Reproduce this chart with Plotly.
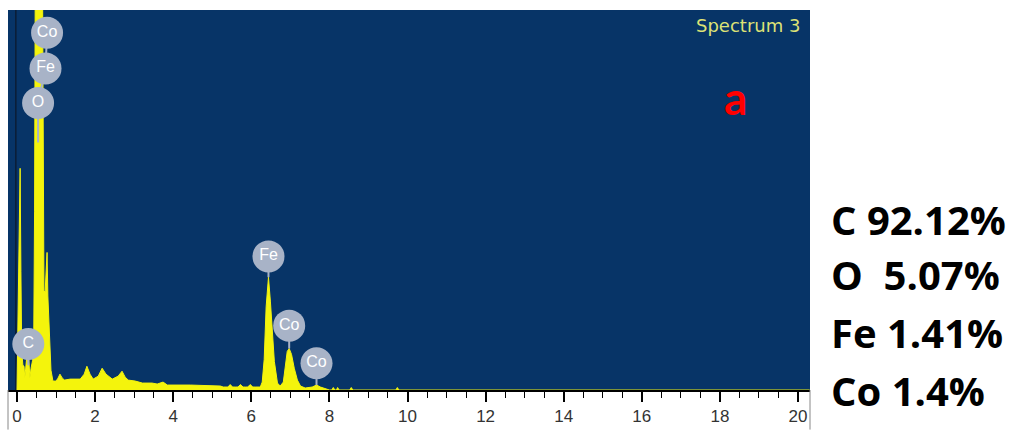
import plotly.graph_objects as go

# ---- spectrum data (energy keV, counts) ----
energy_kev = [0.00, 0.02, 0.05, 0.08, 0.10, 0.12, 0.15, 0.18, 0.20, 0.23, 0.27, 0.30, 0.33, 0.36,
              0.40, 0.43, 0.45, 0.47, 0.56, 0.65, 0.67, 0.69, 0.72, 0.75, 0.77, 0.79, 0.83, 0.87,
              0.92, 1.00, 1.05, 1.10, 1.16, 1.22, 1.36, 1.62, 1.72, 1.79, 1.87, 1.95, 2.08, 2.18,
              2.28, 2.44, 2.59, 2.69, 2.77, 2.85, 3.03, 3.21, 3.46, 3.59, 3.74, 3.85, 4.44, 5.21,
              5.28, 5.40, 5.46, 5.52, 5.59, 5.66, 5.72, 5.79, 5.85, 5.91, 5.97, 6.04, 6.10, 6.23,
              6.28, 6.33, 6.38, 6.44, 6.49, 6.54, 6.59, 6.67, 6.74, 6.82, 6.87, 6.92, 6.97, 7.03,
              7.10, 7.18, 7.26, 7.38, 7.56, 7.67, 7.77, 7.90, 8.00, 8.06, 8.10, 8.14, 8.18, 8.21,
              8.25, 8.52, 8.56, 8.60, 9.70, 9.74, 9.78, 20.30]
counts = [0, 600, 1500, 2240, 1200, 400, 250, 240, 120, 260, 420, 330, 120, 220,
          300, 600, 1800, 4500, 9000, 4500, 1400, 1000, 990, 1200, 1390, 950, 500, 200,
          90, 90, 120, 160, 120, 100, 110, 110, 160, 240, 160, 110, 140, 220,
          160, 110, 140, 190, 130, 100, 90, 70, 70, 60, 80, 50, 50, 40,
          30, 30, 55, 30, 30, 30, 55, 30, 30, 30, 55, 30, 30, 30,
          80, 310, 840, 1140, 890, 540, 290, 70, 40, 80, 240, 390, 420, 360,
          220, 100, 40, 20, 30, 50, 30, 10, 0, 0, 25, 0, 0, 25,
          0, 0, 25, 0, 0, 25, 0, 0]

# ---- peak labels ----
label_text = ["Co", "Fe", "O", "C", "Fe", "Co", "Co"]
label_kev = [0.77, 0.73, 0.54, 0.29, 6.44, 6.97, 7.67]
label_cts = [3610, 3250, 2900, 465, 1350, 650, 270]
label_tip = [None, None, 2500, 250, 1140, 420, 50]

# ---- composition text ----
composition = ["C 92.12%", "O\u00a0 5.07%", "Fe 1.41%", "Co 1.4%"]

# ---- axis ticks ----
tick_vals = [0, 2, 4, 6, 8, 10, 12, 14, 16, 18, 20]
tick_text = [str(v) for v in tick_vals]

BG = "#073467"
YEL = "#f4f40c"
CIRC = "#a8b3c7"

W, H = 1019, 434
L, R, T, B = 8, 209, 10, 40
PW, PH = W - L - R, H - T - B


def px(xp):
    return (xp - L) / PW


def py(yp):
    return (H - B - yp) / PH


fig = go.Figure()

fig.add_trace(go.Scatter(x=energy_kev, y=counts, mode="lines", fill="tozeroy",
                         line=dict(color=YEL, width=1), fillcolor=YEL,
                         hoverinfo="skip", showlegend=False))

# stems: connect stacked labels and each label to its peak
sx, sy = [], []
sx += label_kev[0:3] + [label_kev[2], None]
sy += label_cts[0:3] + [label_tip[2], None]
for i in range(3, len(label_text)):
    sx += [label_kev[i], label_kev[i], None]
    sy += [label_cts[i], label_tip[i], None]
fig.add_trace(go.Scatter(x=sx, y=sy, mode="lines", line=dict(color=CIRC, width=2),
                         hoverinfo="skip", showlegend=False))

fig.add_trace(go.Scatter(x=label_kev, y=label_cts, mode="markers+text", text=label_text,
                         textposition="middle center",
                         textfont=dict(family="Liberation Sans, Arial", size=16, color="white"),
                         marker=dict(size=32, color=CIRC, line=dict(width=0)),
                         cliponaxis=False, hoverinfo="skip", showlegend=False))

shapes = [
    dict(type="line", xref="x", yref="paper", x0=-0.03, x1=-0.03, y0=0, y1=1,
         line=dict(color="#0b1d36", width=1.5), layer="below"),
    dict(type="line", xref="paper", yref="paper", x0=0, x1=0, y0=0, y1=-B / PH,
         line=dict(color="#888888", width=1)),
    dict(type="line", xref="paper", yref="paper", x0=1, x1=1, y0=0, y1=-B / PH,
         line=dict(color="#888888", width=1)),
]

annotations = [
    dict(text="Spectrum 3", xref="paper", yref="paper", x=px(802), y=py(26),
         xanchor="right", yanchor="middle", showarrow=False,
         font=dict(family="DejaVu Sans", size=18, color="#dde276")),
    dict(text="<b>a</b>", xref="paper", yref="paper", x=px(735), y=py(98),
         xanchor="center", yanchor="middle", showarrow=False,
         font=dict(family="Lato", size=46, color="#ff0000")),
]
line_centers = [222, 277, 336, 394]
for txt, yc in zip(composition, line_centers):
    annotations.append(dict(text="<b>" + txt + "</b>", xref="paper", yref="paper",
                            x=px(829), y=py(yc), xanchor="left", yanchor="middle",
                            showarrow=False,
                            font=dict(family="Open Sans", size=40, color="black")))

fig.update_layout(
    width=W, height=H, margin=dict(l=L, r=R, t=T, b=B, pad=0),
    paper_bgcolor="white", plot_bgcolor=BG,
    shapes=shapes, annotations=annotations,
    xaxis=dict(range=[(L - 17) / 39.05, (L + PW - 17) / 39.05], showgrid=False, zeroline=False,
               showline=True, linecolor="black", linewidth=1.5,
               ticks="outside", ticklen=10, tickwidth=1.5, tickcolor="black",
               tickvals=tick_vals, ticktext=tick_text,
               tickfont=dict(family="Liberation Sans, Arial", size=17, color="#333333"),
               minor=dict(dtick=0.5, tick0=0, ticks="outside", ticklen=6, tickwidth=1.2,
                          tickcolor="black", showgrid=False)),
    yaxis=dict(range=[0, 3840], visible=False, showgrid=False, zeroline=False),
)

fig.write_html("out.html")
